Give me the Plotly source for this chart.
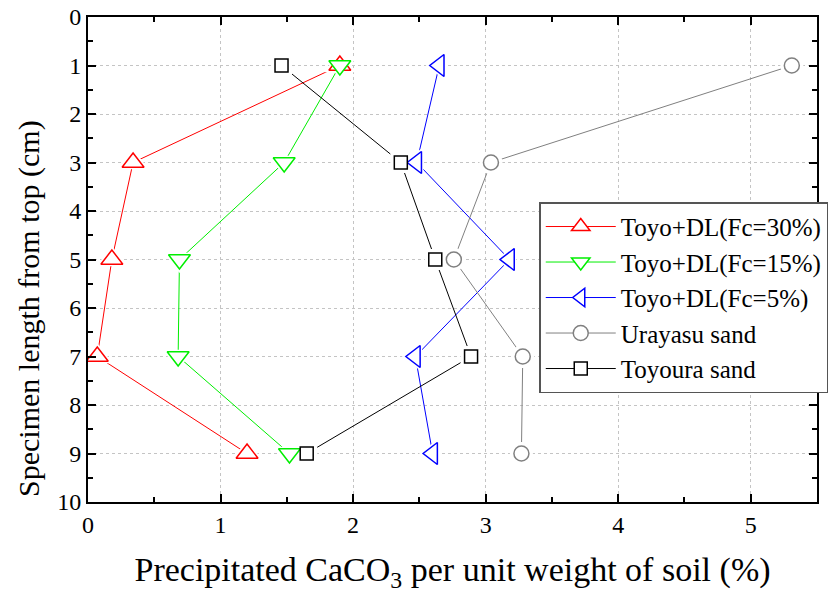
import plotly.graph_objects as go

# Depth of each sampling point (cm from top of specimen)
depth = [1, 3, 5, 7, 9]

# Precipitated CaCO3 (%) for each specimen
toyo_dl_fc30 = [1.90, 0.34, 0.18, 0.07, 1.20]
toyo_dl_fc15 = [1.90, 1.48, 0.69, 0.68, 1.52]
toyo_dl_fc5 = [2.65, 2.48, 3.18, 2.47, 2.60]
urayasu = [5.31, 3.04, 2.76, 3.28, 3.27]
toyoura = [1.46, 2.36, 2.62, 2.89, 1.65]

series_names = [
    "Toyo+DL(Fc=30%)",
    "Toyo+DL(Fc=15%)",
    "Toyo+DL(Fc=5%)",
    "Urayasu sand",
    "Toyoura sand",
]
series_values = [toyo_dl_fc30, toyo_dl_fc15, toyo_dl_fc5, urayasu, toyoura]
series_colors = ["#FF0000", "#00EE00", "#0000FF", "#808080", "#000000"]
series_symbols = ["triangle-up", "triangle-down", "triangle-left", "circle", "square"]
series_sizes = [19, 19, 19, 15, 13]

styles = list(zip(series_names, series_values, series_colors, series_symbols, series_sizes))

fig = go.Figure()

# connecting lines
for name, vals, col, sym, sz in styles:
    fig.add_trace(go.Scatter(x=vals, y=depth, mode="lines",
                             line=dict(color=col, width=1),
                             showlegend=False, hoverinfo="skip"))

# white halos so each line stops short of the symbols
for name, vals, col, sym, sz in styles:
    fig.add_trace(go.Scatter(x=vals, y=depth, mode="markers",
                             marker=dict(symbol=sym, size=sz + 8, color="white",
                                         line=dict(width=0)),
                             showlegend=False, hoverinfo="skip"))

# hollow symbols
for name, vals, col, sym, sz in styles:
    fig.add_trace(go.Scatter(x=vals, y=depth, mode="markers",
                             marker=dict(symbol=sym, size=sz, color="white",
                                         line=dict(color=col, width=1.5)),
                             showlegend=False, name=name))

# legend entries
for name, vals, col, sym, sz in styles:
    fig.add_trace(go.Scatter(x=[None], y=[None], mode="lines+markers", name=name,
                             line=dict(color=col, width=1),
                             marker=dict(symbol=sym, size=sz, color="white",
                                         line=dict(color=col, width=1.5))))

font_family = "Liberation Serif, Times New Roman, serif"

axis_common = dict(
    showline=True, linecolor="black", linewidth=2, mirror="ticks",
    ticks="inside", ticklen=8, tickwidth=1.5, tickcolor="black",
    showgrid=True, gridcolor="#c4c4c4", gridwidth=1, griddash="dot",
    zeroline=False,
    tickfont=dict(family=font_family, size=24, color="black"),
    minor=dict(ticks="inside", ticklen=5, tickwidth=1.5, tickcolor="black",
               dtick=0.5, showgrid=False),
)

fig.update_layout(
    width=830, height=594,
    margin=dict(l=88, r=13, t=17, b=92, autoexpand=False),
    paper_bgcolor="white", plot_bgcolor="white",
    font=dict(family=font_family, color="black"),
    xaxis=dict(range=[0, 5.5], dtick=1, tick0=0,
               title=dict(text="Precipitated CaCO<sub>3</sub> per unit weight of soil (%)",
                          font=dict(family=font_family, size=34), standoff=20),
               **axis_common),
    yaxis=dict(range=[10, 0], dtick=1, tick0=0, **axis_common),
    legend=dict(x=0.619, y=0.618, xanchor="left", yanchor="top",
                bgcolor="white", bordercolor="#555555", borderwidth=1.5,
                font=dict(family=font_family, size=25, color="black"),
                itemwidth=70, tracegroupgap=0, traceorder="normal"),
    showlegend=True,
)

# vertical axis title, set slightly below the middle of the axis
fig.add_annotation(text="Specimen length from top (cm)", textangle=-90,
                   xref="paper", yref="paper", x=-0.081, y=0.40,
                   xanchor="center", yanchor="middle", showarrow=False,
                   font=dict(family=font_family, size=30, color="black"))

fig.write_html("out.html")
